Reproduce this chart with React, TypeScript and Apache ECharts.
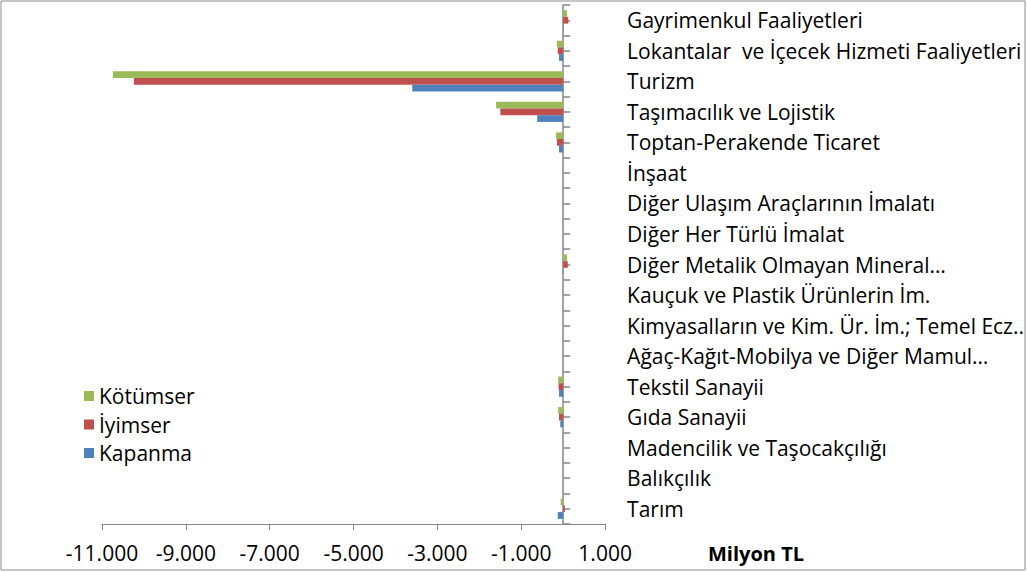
import React, { useEffect, useRef } from "react";
import * as echarts from "echarts";

const categories = [
  "Gayrimenkul Faaliyetleri",
  "Lokantalar  ve İçecek Hizmeti Faaliyetleri",
  "Turizm",
  "Taşımacılık ve Lojistik",
  "Toptan-Perakende Ticaret",
  "İnşaat",
  "Diğer Ulaşım Araçlarının İmalatı",
  "Diğer Her Türlü İmalat",
  "Diğer Metalik Olmayan Mineral…",
  "Kauçuk ve Plastik Ürünlerin İm.",
  "Kimyasalların ve Kim. Ür. İm.; Temel Ecz..",
  "Ağaç-Kağıt-Mobilya ve Diğer Mamul…",
  "Tekstil Sanayii",
  "Gıda Sanayii",
  "Madencilik ve Taşocakçılığı",
  "Balıkçılık",
  "Tarım",
];

const kotumser = [90, -150, -10740, -1600, -170, 0, 0, 0, 90, 0, 0, 0, -120, -120, 0, 0, -60];
const iyimser = [120, -130, -10240, -1500, -150, 0, 0, 0, 110, 0, 0, 0, -110, -100, 0, 0, 40];
const kapanma = [10, -100, -3600, -620, -100, 0, 0, 0, -10, 0, 0, 0, -100, -70, 0, 0, -130];

const seriesNames = ["Kötümser", "İyimser", "Kapanma"];
const seriesColors = ["#9BBB59", "#C0504D", "#4F81BD"];

const xMin = -11000;
const xMax = 1000;
const xTickCount = 6;

const FONT = "'Open Sans', sans-serif";
const AXIS_COLOR = "#868686";

function fmt(v: number): string {
  const s = String(Math.abs(v)).replace(/\B(?=(\d{3})+(?!\d))/g, ".");
  return (v < 0 ? "-" : "") + s;
}

export default function App() {
  const ref = useRef<HTMLDivElement>(null);
  useEffect(() => {
    if (!ref.current) return;
    const chart = echarts.init(ref.current, null, { renderer: "svg" });
    const data = [kotumser, iyimser, kapanma];
    chart.setOption({
      animation: false,
      backgroundColor: "#ffffff",
      textStyle: { fontFamily: FONT },
      title: {
        text: "Milyon TL",
        left: 703,
        top: 538,
        textStyle: { fontFamily: FONT, fontSize: 20, fontWeight: "bold", color: "#000" },
      },
      legend: {
        orient: "vertical",
        left: 79,
        top: 380,
        itemWidth: 10,
        itemHeight: 10,
        itemGap: 6.5,
        icon: "rect",
        data: seriesNames,
        textStyle: { fontFamily: FONT, fontSize: 21, color: "#000", lineHeight: 22 },
      },
      graphic: [
        {
          type: "rect",
          shape: { x: 1, y: 1, width: 1024, height: 569 },
          style: { fill: "none", stroke: "#8c8c8c", lineWidth: 1 },
          silent: true,
        },
      ],
      grid: { left: 102, right: 421, top: 5, bottom: 48 },
      xAxis: [
        {
          type: "value",
          min: xMin,
          max: xMax,
          interval: 1000,
          axisLine: { show: true, lineStyle: { color: AXIS_COLOR } },
          axisTick: { show: false },
          splitLine: { show: false },
          axisLabel: {
            margin: 18,
            fontSize: 21,
            color: "#000",
            fontFamily: FONT,
            formatter: (v: number) => (v % 2000 === 0 ? "" : fmt(v)),
          },
        },
        {
          type: "category",
          position: "bottom",
          data: new Array(xTickCount).fill(""),
          boundaryGap: true,
          axisLine: { show: false },
          axisLabel: { show: false },
          axisTick: { show: true, length: 6, lineStyle: { color: AXIS_COLOR } },
          splitLine: { show: false },
        },
      ],
      yAxis: [
        {
          type: "category",
          data: categories,
          inverse: true,
          position: "right",
          axisLine: { show: false, onZero: false },
          axisTick: { show: false },
          axisLabel: { margin: 22, fontSize: 21, color: "#000", fontFamily: FONT },
        },
        {
          type: "category",
          data: new Array(categories.length * 2).fill(""),
          position: "left",
          boundaryGap: true,
          axisLine: { show: true, onZero: true, lineStyle: { color: AXIS_COLOR, width: 1.5 } },
          axisTick: { show: true, inside: true, length: 7, interval: 0, lineStyle: { color: AXIS_COLOR, width: 1.5 } },
          axisLabel: { show: false },
        },
      ],
      series: seriesNames.map((name, i) => ({
        name,
        type: "bar",
        xAxisIndex: 0,
        yAxisIndex: 0,
        data: data[i],
        barGap: "0%",
        barCategoryGap: "34%",
        itemStyle: { color: seriesColors[i] },
      })),
    });
    return () => chart.dispose();
  }, []);
  return (
    <div
      ref={ref}
      style={{ position: "fixed", left: 0, top: 0, width: 1027, height: 572 }}
    />
  );
}
